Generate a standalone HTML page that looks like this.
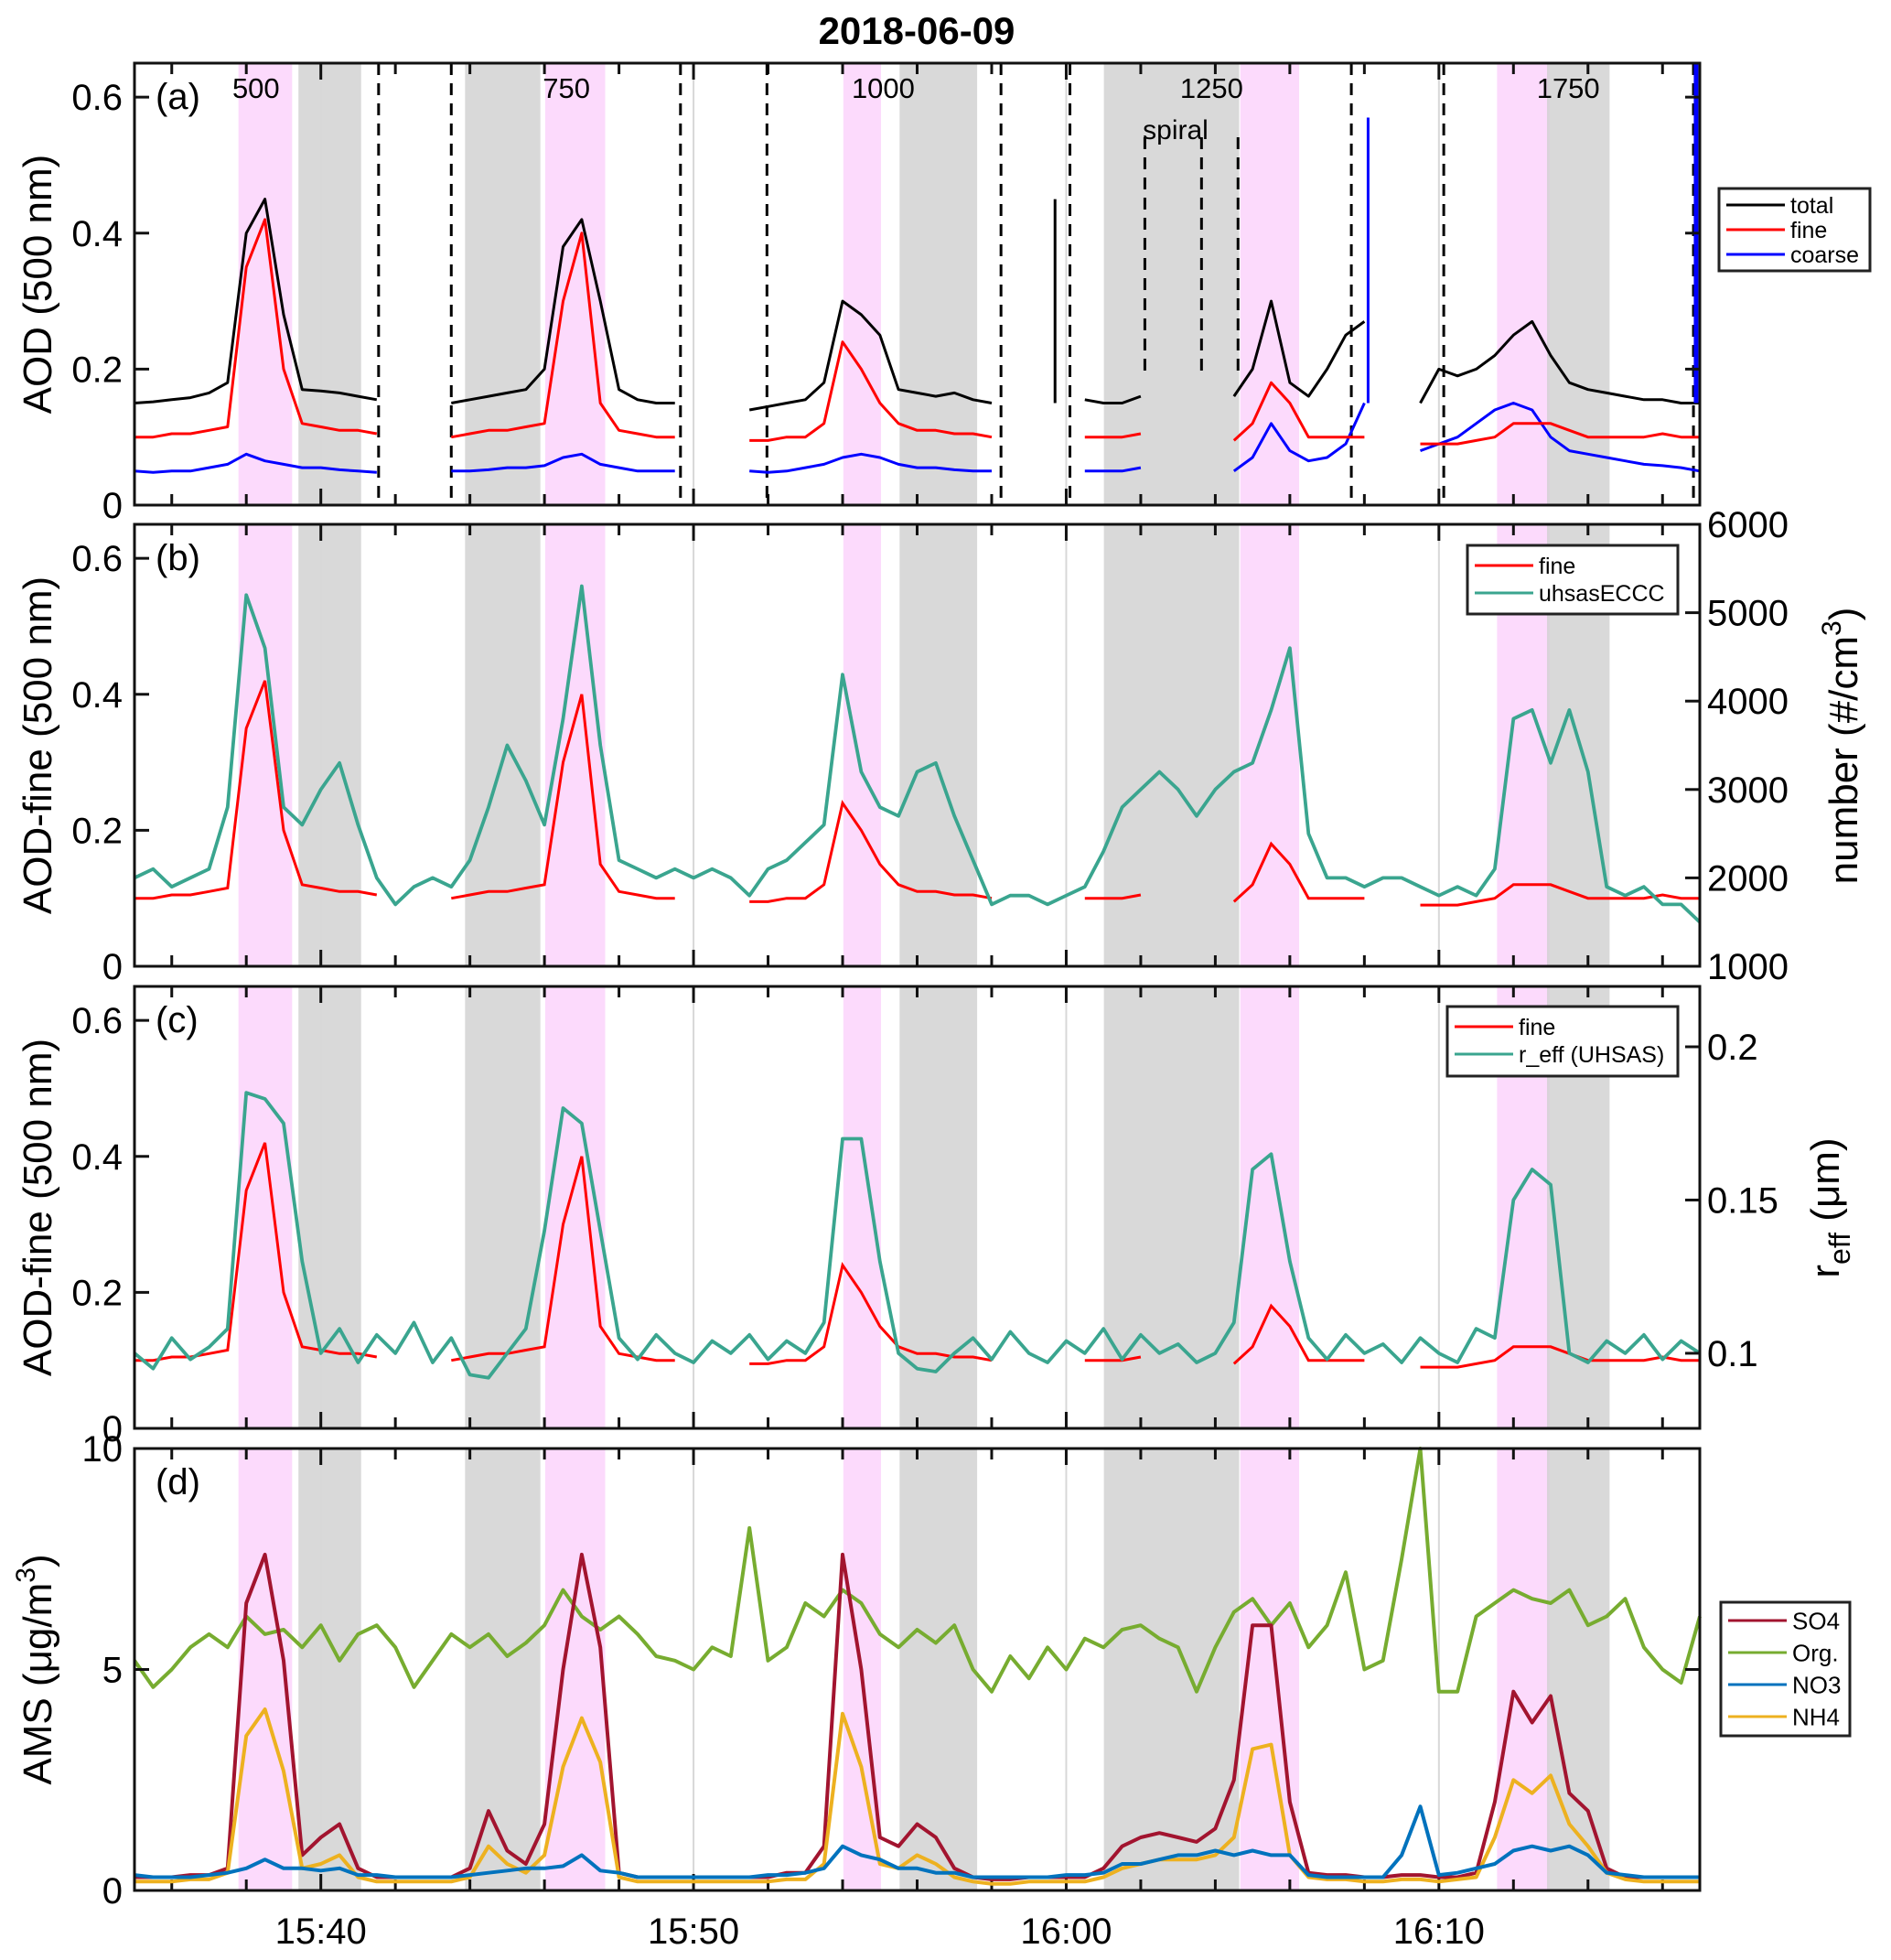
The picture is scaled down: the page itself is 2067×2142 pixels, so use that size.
<!DOCTYPE html>
<html><head><meta charset="utf-8"><title>2018-06-09</title>
<style>
html,body{margin:0;padding:0;background:#fff;}
svg{display:block;font-family:"Liberation Sans",Arial,sans-serif;}
</style></head>
<body>
<svg id="chart" width="2067" height="2142" viewBox="0 0 2067 2142" xmlns="http://www.w3.org/2000/svg">
<rect x="0" y="0" width="2067" height="2142" fill="#fff"/>
<text x="1002" y="48" font-size="42" font-weight="bold" text-anchor="middle">2018-06-09</text>
</svg>
<script>
// ---- data (time in minutes after 15:00, 0.5-min grid) ----
const startMin = 35, stepMin = 0.5, nPts = 85;
const total = [.15,.152,.155,.158,.165,.18,.40,.45,.28,.17,
 .168,.165,.16,.155,null,null,null,.15,.155,.16,
 .165,.17,.2,.38,.42,.3,.17,.155,.15,.15,
 null,null,null,.14,.145,.15,.155,.18,.30,.28,
 .25,.17,.165,.16,.165,.155,.15,null,null,null,
 null,.155,.15,.15,.16,null,null,null,null,.16,
 .2,.3,.18,.16,.2,.25,.27,null,null,.15,
 .2,.19,.2,.22,.25,.27,.22,.18,.17,.165,
 .16,.155,.155,.15,.15];
const fine = [.1,.1,.105,.105,.11,.115,.35,.42,.2,.12,
 .115,.11,.11,.105,null,null,null,.1,.105,.11,
 .11,.115,.12,.3,.4,.15,.11,.105,.1,.1,
 null,null,null,.095,.095,.1,.1,.12,.24,.2,
 .15,.12,.11,.11,.105,.105,.1,null,null,null,
 null,.1,.1,.1,.105,null,null,null,null,.095,
 .12,.18,.15,.1,.1,.1,.1,null,null,.09,
 .09,.09,.095,.1,.12,.12,.12,.11,.1,.1,
 .1,.1,.105,.1,.1];
const coarse = [.05,.048,.05,.05,.055,.06,.075,.065,.06,.055,
 .055,.052,.05,.048,null,null,null,.05,.05,.052,
 .055,.055,.058,.07,.075,.06,.055,.05,.05,.05,
 null,null,null,.05,.048,.05,.055,.06,.07,.075,
 .07,.06,.055,.055,.052,.05,.05,null,null,null,
 null,.05,.05,.05,.055,null,null,null,null,.05,
 .07,.12,.08,.065,.07,.09,.15,null,null,.08,
 .09,.1,.12,.14,.15,.14,.1,.08,.075,.07,
 .065,.06,.058,.055,.05];
const uhsas = [2000,2100,1900,2000,2100,2800,5200,4600,2800,2600,
 3000,3300,2600,2000,1700,1900,2000,1900,2200,2800,
 3500,3100,2600,3800,5300,3500,2200,2100,2000,2100,
 2000,2100,2000,1800,2100,2200,2400,2600,4300,3200,
 2800,2700,3200,3300,2700,2200,1700,1800,1800,1700,
 1800,1900,2300,2800,3000,3200,3000,2700,3000,3200,
 3300,3900,4600,2500,2000,2000,1900,2000,2000,1900,
 1800,1900,1800,2100,3800,3900,3300,3900,3200,1900,
 1800,1900,1700,1700,1500];
const fineB = fine.map(v => v === null ? null : v);
const reff = [.1,.095,.105,.098,.102,.108,.185,.183,.175,.13,
 .1,.108,.097,.106,.1,.11,.097,.105,.093,.092,
 .1,.108,.14,.18,.175,.14,.105,.098,.106,.1,
 .097,.104,.1,.106,.098,.104,.1,.11,.17,.17,
 .13,.1,.095,.094,.1,.105,.098,.107,.1,.097,
 .104,.1,.108,.098,.106,.1,.103,.097,.1,.11,
 .16,.165,.13,.105,.098,.106,.1,.103,.097,.105,
 .1,.097,.108,.105,.15,.16,.155,.1,.097,.104,
 .1,.106,.098,.104,.1];
const so4 = [.3,.3,.3,.35,.35,.5,6.5,7.6,5.2,.8,
 1.2,1.5,.5,.3,.3,.3,.3,.3,.5,1.8,
 .9,.6,1.5,5.0,7.6,5.5,.4,.3,.3,.3,
 .3,.3,.3,.3,.3,.4,.4,1,7.6,5,
 1.2,1,1.5,1.2,.5,.3,.25,.25,.3,.3,
 .3,.3,.5,1,1.2,1.3,1.2,1.1,1.4,2.5,
 6,6,2,.4,.35,.35,.3,.3,.35,.35,
 .3,.3,.4,2.0,4.5,3.8,4.4,2.2,1.8,.5,
 .3,.3,.3,.3,.3];
const org = [5.2,4.6,5,5.5,5.8,5.5,6.2,5.8,5.9,5.5,
 6,5.2,5.8,6,5.5,4.6,5.2,5.8,5.5,5.8,
 5.3,5.6,6,6.8,6.2,5.9,6.2,5.8,5.3,5.2,
 5,5.5,5.3,8.2,5.2,5.5,6.5,6.2,6.8,6.5,
 5.8,5.5,5.9,5.6,6,5,4.5,5.3,4.8,5.5,
 5,5.7,5.5,5.9,6,5.7,5.5,4.5,5.5,6.3,
 6.6,6,6.5,5.5,6,7.2,5,5.2,7.5,10,
 4.5,4.5,6.2,6.5,6.8,6.6,6.5,6.8,6,6.2,
 6.6,5.5,5,4.7,6.2];
const no3 = [.35,.3,.3,.3,.35,.4,.5,.7,.5,.5,
 .45,.5,.35,.35,.3,.3,.3,.3,.35,.4,
 .45,.5,.5,.55,.8,.45,.4,.3,.3,.3,
 .3,.3,.3,.3,.35,.35,.4,.5,1.0,.8,
 .7,.5,.5,.4,.4,.3,.3,.3,.3,.3,
 .35,.35,.4,.6,.6,.7,.8,.8,.9,.8,
 .9,.8,.8,.35,.3,.3,.3,.3,.8,1.9,
 .35,.4,.5,.6,.9,1.0,.9,1.0,.8,.4,
 .35,.3,.3,.3,.3];
const nh4 = [.2,.2,.2,.25,.25,.4,3.5,4.1,2.7,.5,
 .6,.8,.3,.2,.2,.2,.2,.2,.3,1.0,
 .6,.4,.8,2.8,3.9,2.9,.3,.2,.2,.2,
 .2,.2,.2,.2,.2,.25,.25,.6,4.0,2.8,
 .6,.5,.8,.6,.3,.2,.15,.15,.2,.2,
 .2,.2,.3,.5,.6,.7,.7,.7,.8,1.2,
 3.2,3.3,.8,.3,.25,.25,.2,.2,.25,.25,
 .2,.25,.3,1.2,2.5,2.2,2.6,1.5,1.0,.4,
 .25,.2,.2,.2,.2];
// spikes (time, value)
const spikeTimes = [59.7, 68.1, 76.9];
const spikeTotal = [0.45, 0.57, 0.65];
// shaded intervals (minutes)
const pinkStart = [37.79, 46.02, 54.02, 64.67, 71.56];
const pinkEnd   = [39.23, 47.63, 55.03, 66.25, 72.97];
const greyStart = [39.40, 43.87, 55.53, 61.01, 72.90];
const greyEnd   = [41.08, 45.89, 57.61, 64.64, 74.58];
const dashTimes = [41.55, 43.50, 49.65, 51.97, 58.25, 60.10, 67.65, 70.13, 76.83];
const spiralTimes = [62.11, 63.63, 64.61];
const recLabels = ["500","750","1000","1250","1750"];
const recTimes = [38.26, 46.59, 55.09, 63.9, 73.47];
const xTickLabels = ["15:40","15:50","16:00","16:10"];
const xTickTimes = [40, 50, 60, 70];
const leftTicksAOD = [0, 0.2, 0.4, 0.6];
const leftTicksAMS = [0, 5, 10];
const rightTicksN = [1000,2000,3000,4000,5000,6000];
const rightTicksR = [0.1, 0.15, 0.2];

// ---- layout ----
const NS = "http://www.w3.org/2000/svg";
const svg = document.getElementById("chart");
const XL = 147, XR = 1858, T0 = 35, T1 = 77;
const X = t => XL + (t - T0) / (T1 - T0) * (XR - XL);
const panels = [
  {top: 69, bot: 552, lo: 0, hi: 0.65},
  {top: 573, bot: 1056, lo: 0, hi: 0.65},
  {top: 1078, bot: 1561, lo: 0, hi: 0.65},
  {top: 1583, bot: 2066, lo: 0, hi: 10}
];
function Yf(p, lo, hi){ return v => p.bot - (v - lo) / (hi - lo) * (p.bot - p.top); }
function el(tag, attrs, parent){
  const e = document.createElementNS(NS, tag);
  for (const k in attrs) e.setAttribute(k, attrs[k]);
  (parent || svg).appendChild(e);
  return e;
}
function txt(s, attrs, parent){ const e = el("text", attrs, parent); e.textContent = s; return e; }
const times = [];
for (let i = 0; i < nPts; i++) times.push(startMin + stepMin * i);

function linePath(vals, yf){
  let d = "", pen = false;
  vals.forEach((v, i) => {
    if (v === null){ pen = false; return; }
    d += (pen ? "L" : "M") + X(times[i]).toFixed(1) + " " + yf(v).toFixed(1);
    pen = true;
  });
  return d;
}

panels.forEach((p, pi) => {
  const g = el("g", {});
  
  
  pinkStart.forEach((s, k) => {
    const r = el("rect", {x: X(s), y: p.top, width: X(pinkEnd[k]) - X(s), height: p.bot - p.top, fill: "#fcd6fc", opacity: 0.9}, g);
    
    
  });
  greyStart.forEach((s, k) => {
    const r = el("rect", {x: X(s), y: p.top, width: X(greyEnd[k]) - X(s), height: p.bot - p.top, fill: "#cfcfcf", opacity: 0.8}, g);
    
    
  });
  xTickTimes.forEach(t => {
    const l = el("line", {x1: X(t), x2: X(t), y1: p.top, y2: p.bot, stroke: "#d8d8d8", "stroke-width": 2}, g);
    
    
  });
  for (let t = 36; t <= 76; t += 2){
    const len = (t % 10 === 0) ? 18 : 12;
    el("line", {x1: X(t), x2: X(t), y1: p.bot, y2: p.bot - len, stroke: "#111", "stroke-width": 3}, g);
    el("line", {x1: X(t), x2: X(t), y1: p.top, y2: p.top + len, stroke: "#111", "stroke-width": 3}, g);
  }
});

// ---- panel a ----
{
  const p = panels[0], y = Yf(p, 0, 0.65);
  dashTimes.forEach(t => {
    const l = el("line", {x1: X(t), x2: X(t), y1: p.top, y2: p.bot, stroke: "#000", "stroke-width": 3, "stroke-dasharray": "13 9"});
    
    
  });
  spiralTimes.forEach(t => {
    const l = el("line", {x1: X(t), x2: X(t), y1: 150, y2: 408, stroke: "#000", "stroke-width": 3, "stroke-dasharray": "13 9"});
    
    
  });
  const s1 = txt("spiral", {x: 1285, y: 152, "font-size": 30, "text-anchor": "middle"});
  
  
  recLabels.forEach((s, k) => {
    const t = txt(s, {x: X(recTimes[k]), y: 107, "font-size": 31, "text-anchor": "middle"});
    
    
  });
  const series = [[coarse, "#0000ff", "coarse-line"], [fine, "#ff0000", "fine-line"], [total, "#000000", "total-line"]];
  series.forEach(([v, c, n]) => {
    const e = el("path", {d: linePath(v, y), fill: "none", stroke: c, "stroke-width": 3, "stroke-linejoin": "round"});
    
    
  });
  spikeTimes.forEach((t, k) => {
    const c = k === 0 ? "#000" : "#0000ff";
    const e = el("line", {x1: X(t), x2: X(t), y1: y(0.15), y2: y(spikeTotal[k]), stroke: c, "stroke-width": k === 2 ? 5 : 3});
    
    
  });
}
// ---- panel b ----
{
  const p = panels[1], y = Yf(p, 0, 0.65), yr = Yf(p, 1000, 6000);
  const a = el("path", {d: linePath(fineB, y), fill: "none", stroke: "#ff0000", "stroke-width": 3});
  
  
  const b = el("path", {d: linePath(uhsas, yr), fill: "none", stroke: "#3aa58f", "stroke-width": 3.8, "stroke-linejoin": "round"});
  
  
  rightTicksN.forEach(v => {
    el("line", {x1: XR, x2: XR - 16, y1: yr(v), y2: yr(v), stroke: "#111", "stroke-width": 3});
    const t = txt(String(v), {x: 1866, y: yr(v) + 14, "font-size": 40});
    
    
  });
  const lab = txt("", {transform: "translate(2030 815) rotate(-90)", "font-size": 44, "text-anchor": "middle"});
  lab.innerHTML = 'number (#/cm<tspan dy="-18" font-size="30">3</tspan><tspan dy="18">)</tspan>';
  
  
}
// ---- panel c ----
{
  const p = panels[2], y = Yf(p, 0, 0.65), yr = Yf(p, 0.0755, 0.2197);
  const a = el("path", {d: linePath(fine, y), fill: "none", stroke: "#ff0000", "stroke-width": 3});
  
  
  const b = el("path", {d: linePath(reff, yr), fill: "none", stroke: "#3aa58f", "stroke-width": 3.8, "stroke-linejoin": "round"});
  
  
  rightTicksR.forEach(v => {
    el("line", {x1: XR, x2: XR - 16, y1: yr(v), y2: yr(v), stroke: "#111", "stroke-width": 3});
    const t = txt(String(v), {x: 1866, y: yr(v) + 14, "font-size": 40});
    
    
  });
  const lab = txt("", {transform: "translate(2010 1320) rotate(-90)", "font-size": 44, "text-anchor": "middle"});
  lab.innerHTML = 'r<tspan dy="12" font-size="32">eff</tspan><tspan dy="-12"> (μm)</tspan>';
  
  
}
// ---- panel d ----
{
  const p = panels[3], y = Yf(p, 0, 10);
  const series = [[org, "#77ac30", "org-line"], [so4, "#a2142f", "so4-line"], [nh4, "#edb120", "nh4-line"], [no3, "#0072bd", "no3-line"]];
  series.forEach(([v, c, n]) => {
    const e = el("path", {d: linePath(v, y), fill: "none", stroke: c, "stroke-width": 4, "stroke-linejoin": "round"});
    
    
  });
  xTickLabels.forEach((s, k) => {
    const t = txt(s, {x: X(xTickTimes[k]), y: 2124, "font-size": 40, "text-anchor": "middle"});
    
    
  });
}
// ---- left axes, frames ----
const leftTitles = ["AOD (500 nm)", "AOD-fine (500 nm)", "AOD-fine (500 nm)", null];
panels.forEach((p, pi) => {
  const ticks = pi === 3 ? leftTicksAMS : leftTicksAOD;
  const y = Yf(p, p.lo, p.hi);
  ticks.forEach(v => {
    el("line", {x1: XL, x2: XL + 16, y1: y(v), y2: y(v), stroke: "#111", "stroke-width": 3});
    if (pi === 0 || pi === 3) el("line", {x1: XR, x2: XR - 16, y1: y(v), y2: y(v), stroke: "#111", "stroke-width": 3});
    const t = txt(String(v), {x: 134, y: y(v) + 14, "font-size": 40, "text-anchor": "end"});
    
    
  });
  const fr = el("rect", {x: XL, y: p.top, width: XR - XL, height: p.bot - p.top, fill: "none", stroke: "#111", "stroke-width": 3});
  
  
  const pl = txt("(" + "abcd"[pi] + ")", {x: 170, y: p.top + 50, "font-size": 40});
  
  
  const cy = (p.top + p.bot) / 2;
  const ylab = txt("", {transform: "translate(56 " + cy + ") rotate(-90)", "font-size": 44, "text-anchor": "middle"});
  if (leftTitles[pi]) ylab.textContent = leftTitles[pi];
  else ylab.innerHTML = 'AMS (μg/m<tspan dy="-18" font-size="30">3</tspan><tspan dy="18">)</tspan>';
  
  
});
// ---- legends ----
function legend(name, x, y, w, h, entries, lineLen, fs, gap, textPad){
  const g = el("g", {});
  
  
  el("rect", {x: x, y: y, width: w, height: h, fill: "#fff", stroke: "#222", "stroke-width": 3}, g);
  entries.forEach(([lab, col], k) => {
    const cy = y + textPad + k * gap;
    el("line", {x1: x + 8, x2: x + 8 + lineLen, y1: cy, y2: cy, stroke: col, "stroke-width": 3}, g);
    const t = txt(lab, {x: x + 14 + lineLen, y: cy + fs * 0.36, "font-size": fs}, g);
    
    
  });
}
legend("legend-a", 1879, 206, 165, 90, [["total","#000"],["fine","#ff0000"],["coarse","#0000ff"]], 64, 25, 27, 18);
legend("legend-b", 1604, 596, 230, 75, [["fine","#ff0000"],["uhsasECCC","#3aa58f"]], 64, 25, 30, 22);
legend("legend-c", 1582, 1100, 252, 76, [["fine","#ff0000"],["r_eff (UHSAS)","#3aa58f"]], 64, 25, 30, 22);
legend("legend-d", 1881, 1751, 141, 146, [["SO4","#a2142f"],["Org.","#77ac30"],["NO3","#0072bd"],["NH4","#edb120"]], 64, 26, 35, 20);
</script>
</body></html>
